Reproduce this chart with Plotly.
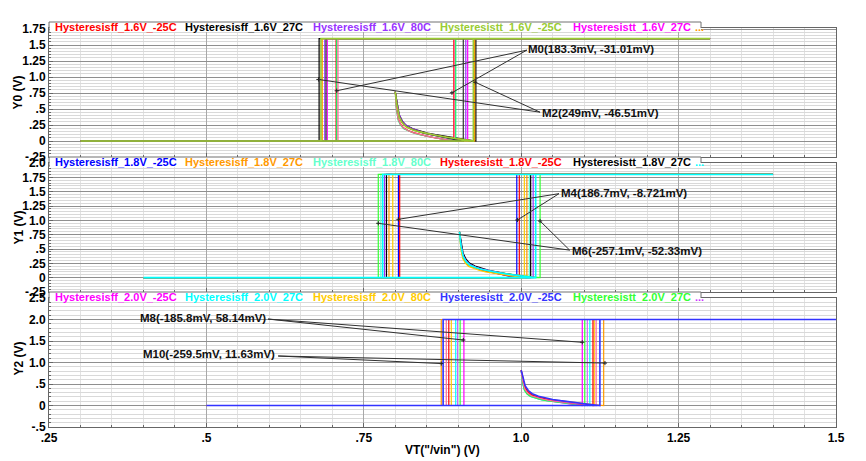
import plotly.graph_objects as go

# ---------------- data ----------------
X_TICKS = [0.25, 0.5, 0.75, 1.0, 1.25, 1.5]
X_TICK_TEXT = [".25", ".5", ".75", "1.0", "1.25", "1.5"]

Y0_TICKS = [-0.25, 0, 0.25, 0.5, 0.75, 1.0, 1.25, 1.5, 1.75]
Y0_TEXT = ["-.25", "0", ".25", ".5", ".75", "1.0", "1.25", "1.5", "1.75"]
Y1_TICKS = [-0.25, 0, 0.25, 0.5, 0.75, 1.0, 1.25, 1.5, 1.75, 2.0]
Y1_TEXT = ["-.25", "0", ".25", ".5", ".75", "1.0", "1.25", "1.5", "1.75", "2.0"]
Y2_TICKS = [-0.5, 0, 0.5, 1.0, 1.5, 2.0, 2.5]
Y2_TEXT = ["-.5", "0", ".5", "1.0", "1.5", "2.0", "2.5"]

# Panel Y0 : 1.6 V supply
P0_NAMES = ["Hysteresisff_1.6V_-25C", "Hysteresisff_1.6V_27C", "Hysteresisff_1.6V_80C",
            "Hysteresistt_1.6V_27C", "Hysteresistt_1.6V_80C", "Hysteresisss_1.6V_-25C",
            "Hysteresisss_1.6V_27C", "Hysteresisss_1.6V_80C", "Hysteresistt_1.6V_-25C"]
P0_COLORS = ["#ff0000", "#000000", "#9933ff", "#ff00ff", "#ff9900", "#00ff66",
             "#ff6699", "#333333", "#99cc33"]
P0_XL = [0.706, 0.679, 0.688, 0.692, 0.684, 0.707, 0.709, 0.690, 0.682]
P0_XR = [0.893, 0.928, 0.912, 0.915, 0.926, 0.896, 0.894, 0.908, 0.924]
P0_DSCALE = [0.92, 1.08, 1.15, 1.05, 0.97, 0.85, 0.90, 1.10, 1.0]
P0_V = 1.6
P0_XSTART, P0_XTOP = 0.30, 1.30
P0_DECAY_X0, P0_DECAY_Y0 = 0.80, 0.77

# Panel Y1 : 1.8 V supply
P1_NAMES = ["Hysteresisff_1.8V_-25C", "Hysteresisff_1.8V_27C", "Hysteresisff_1.8V_80C",
            "Hysteresistt_1.8V_-25C", "Hysteresistt_1.8V_27C", "Hysteresisss_1.8V_-25C",
            "Hysteresisss_1.8V_27C", "Hysteresisss_1.8V_80C", "Hysteresistt_1.8V_80C"]
P1_COLORS = ["#0000ff", "#ff9900", "#66ffcc", "#ff0000", "#000000", "#33ff33",
             "#9933ff", "#ffcc00", "#00ffff"]
P1_XL = [0.805, 0.790, 0.777, 0.807, 0.786, 0.773, 0.783, 0.796, 0.780]
P1_XR = [0.993, 1.009, 1.013, 0.997, 1.015, 1.030, 1.019, 1.005, 1.023]
P1_DSCALE = [1.15, 0.90, 0.95, 1.05, 1.10, 0.88, 1.0, 0.85, 0.93]
P1_V = 1.8
P1_XSTART, P1_XTOP = 0.40, 1.40
P1_DECAY_X0, P1_DECAY_Y0 = 0.902, 0.80

# Panel Y2 : 2.0 V supply
P2_NAMES = ["Hysteresisff_2.0V_-25C", "Hysteresisff_2.0V_27C", "Hysteresisff_2.0V_80C",
            "Hysteresistt_2.0V_27C", "Hysteresistt_2.0V_80C", "Hysteresisss_2.0V_-25C",
            "Hysteresisss_2.0V_27C", "Hysteresisss_2.0V_80C", "Hysteresistt_2.0V_-25C"]
P2_COLORS = ["#ff00ff", "#00ffff", "#ffcc00", "#33ff33", "#cc66ff", "#ff9900",
             "#ff0000", "#ff6699", "#3333ff"]
P2_XL = [0.909, 0.896, 0.889, 0.903, 0.899, 0.873, 0.885, 0.881, 0.876]
P2_XR = [1.097, 1.109, 1.116, 1.101, 1.105, 1.131, 1.114, 1.119, 1.125]
P2_DSCALE = [0.95, 0.85, 1.05, 0.90, 1.10, 1.0, 1.08, 0.93, 1.15]
P2_V = 2.0
P2_XSTART, P2_XTOP = 0.50, 1.50
P2_DECAY_X0, P2_DECAY_Y0 = 1.0, 0.82

# shape of the initial decay (fraction of the way to the switching point, relative height)
DECAY_FRAC = [0.0, 0.02, 0.05, 0.09, 0.14, 0.22, 0.30, 0.40, 0.50, 0.64, 0.76, 0.88, 1.0]
DECAY_REL = [1.0, 0.74, 0.49, 0.37, 0.29, 0.23, 0.19, 0.15, 0.12, 0.08, 0.05, 0.025, 0.0]

# legend rows (first five names + "...")
LEG0_TEXT = ["Hysteresisff_1.6V_-25C", "Hysteresisff_1.6V_27C", "Hysteresisff_1.6V_80C",
             "Hysteresistt_1.6V_-25C", "Hysteresistt_1.6V_27C", "..."]
LEG0_COL = ["#ff0000", "#000000", "#9933ff", "#99cc33", "#ff00ff", "#ff9900"]
LEG1_TEXT = ["Hysteresisff_1.8V_-25C", "Hysteresisff_1.8V_27C", "Hysteresisff_1.8V_80C",
             "Hysteresistt_1.8V_-25C", "Hysteresistt_1.8V_27C", "..."]
LEG1_COL = ["#0000ff", "#ff9900", "#66ffcc", "#ff0000", "#000000", "#00ffff"]
LEG2_TEXT = ["Hysteresisff_2.0V_-25C", "Hysteresisff_2.0V_27C", "Hysteresisff_2.0V_80C",
             "Hysteresistt_2.0V_-25C", "Hysteresistt_2.0V_27C", "..."]
LEG2_COL = ["#ff00ff", "#00ffff", "#ffcc00", "#3333ff", "#33ff33", "#cc33ff"]

# delta markers
MK_PANEL = [1, 1, 2, 2, 3, 3]
MK_TEXT = ["M0(183.3mV, -31.01mV)", "M2(249mV, -46.51mV)", "M4(186.7mV, -8.721mV)",
           "M6(-257.1mV, -52.33mV)", "M8(-185.8mV, 58.14mV)", "M10(-259.5mV, 11.63mV)"]
MK_AX = [0.707, 0.678, 0.805, 0.773, 0.908, 0.873]
MK_AY = [0.785, 0.962, 1.018, 0.948, 1.523, 0.975]
MK_BX = [0.890, 0.927, 0.994, 1.030, 1.097, 1.133]
MK_BY = [0.754, 0.918, 1.006, 0.988, 1.470, 0.987]

# ---------------- layout constants (pixels) ----------------
W, H = 866, 461
L, R, T, B = 49, 836, 28, 427
PW, PH = R - L, B - T
PANEL_TOP = [28, 163, 298]
PANEL_BOT = [157, 292, 427]
YRANGES = [[-0.25, 1.766], [-0.25, 2.0], [-0.5, 2.5]]

# label placement (data coords) for markers
MK_LBL_X = [1.008, 1.030, 1.060, 1.077, 0.598, 0.612]
MK_LBL_Y = [1.44, 0.435, 1.482, 0.470, 2.045, 1.198]
MK_LBL_ANCHOR = ["left", "left", "left", "left", "right", "right"]
MK_END_X = [1.009, 1.030, 1.060, 1.077, 0.598, 0.614]
MK_END_Y = [1.42, 0.45, 1.465, 0.48, 2.01, 1.151]


def py2paper(py):
    return (B - py) / PH


def px2paper(px):
    return (px - L) / PW


fig = go.Figure()


def add_panel(idx, names, colors, xl, xr, dscale, v, xstart, xtop, x0, y0):
    ax = "" if idx == 0 else str(idx + 1)
    nlast = len(names) - 1
    for k, (n, c, a, b, s) in enumerate(zip(names, colors, xl, xr, dscale)):
        xs = [x0 + f * (b - x0) for f in DECAY_FRAC]
        ys = [y0 * g * (s if 0 < i < len(DECAY_REL) - 1 else 1.0)
              for i, g in enumerate(DECAY_REL)]
        xs += [b, xtop, a, a, xstart, b]
        ys += [v, v, v, 0, 0, 0]
        fig.add_trace(go.Scatter(x=xs, y=ys, mode="lines", name=n,
                                 line=dict(color=c, width=1.6 if k == nlast else 1.2),
                                 xaxis="x" + ax, yaxis="y" + ax, showlegend=False))


add_panel(0, P0_NAMES, P0_COLORS, P0_XL, P0_XR, P0_DSCALE, P0_V, P0_XSTART, P0_XTOP,
          P0_DECAY_X0, P0_DECAY_Y0)
add_panel(1, P1_NAMES, P1_COLORS, P1_XL, P1_XR, P1_DSCALE, P1_V, P1_XSTART, P1_XTOP,
          P1_DECAY_X0, P1_DECAY_Y0)
add_panel(2, P2_NAMES, P2_COLORS, P2_XL, P2_XR, P2_DSCALE, P2_V, P2_XSTART, P2_XTOP,
          P2_DECAY_X0, P2_DECAY_Y0)

shapes = []
annotations = []
BOLD = dict(family="Liberation Sans, Arial, sans-serif", size=12, color="black", weight="bold")
BOLD_MK = dict(family="Liberation Sans, Arial, sans-serif", size=11.5, color="#111111",
               weight="bold")

# markers
for i in range(len(MK_TEXT)):
    ax = "" if MK_PANEL[i] == 1 else str(MK_PANEL[i])
    for px_, py_ in ((MK_AX[i], MK_AY[i]), (MK_BX[i], MK_BY[i])):
        shapes.append(dict(type="line", xref="x" + ax, yref="y" + ax,
                           x0=MK_END_X[i], y0=MK_END_Y[i], x1=px_, y1=py_,
                           line=dict(color="#303030", width=1), layer="above"))
    fig.add_trace(go.Scatter(x=[MK_AX[i], MK_BX[i]], y=[MK_AY[i], MK_BY[i]], mode="markers",
                             marker=dict(color="#202020", size=3, symbol="cross-thin",
                                         line=dict(color="#202020", width=1)),
                             xaxis="x" + ax, yaxis="y" + ax, showlegend=False))
    annotations.append(dict(text=MK_TEXT[i], x=MK_LBL_X[i], y=MK_LBL_Y[i],
                            xref="x" + ax, yref="y" + ax, xanchor=MK_LBL_ANCHOR[i],
                            yanchor="middle", showarrow=False, font=BOLD_MK))

# legend boxes
LEG_X = [53, 183, 311, 438, 571, 693]
for k, (texts, cols) in enumerate(((LEG0_TEXT, LEG0_COL), (LEG1_TEXT, LEG1_COL),
                                   (LEG2_TEXT, LEG2_COL))):
    top = PANEL_TOP[k]
    shapes.append(dict(type="rect", xref="paper", yref="paper",
                       x0=px2paper(L + 0.5), x1=px2paper(701), y0=py2paper(top + 4),
                       y1=py2paper(top - 6), fillcolor="white", line=dict(width=0),
                       layer="above"))
    shapes.append(dict(type="path", xref="paper", yref="paper",
                       path="M {} {} L {} {} L {} {} L {} {}".format(
                           px2paper(L), py2paper(top + 4), px2paper(L), py2paper(top - 6),
                           px2paper(701), py2paper(top - 6), px2paper(701), py2paper(top)),
                       line=dict(color="#707070", width=1), layer="above"))
    for t, c, xp in zip(texts, cols, LEG_X):
        annotations.append(dict(text=t, x=px2paper(xp), y=py2paper(top - 1.5),
                                xref="paper", yref="paper", xanchor="left",
                                yanchor="middle", showarrow=False,
                                font=dict(family="Liberation Sans, Arial, sans-serif",
                                          size=11, color=c, weight="bold")))

# axis titles
for k, t in enumerate(["Y0 (V)", "Y1 (V)", "Y2 (V)"]):
    cy = (PANEL_TOP[k] + PANEL_BOT[k]) / 2 - (4 if k == 2 else 0)
    annotations.append(dict(text=t, x=px2paper(18), y=py2paper(cy), xref="paper",
                            yref="paper", textangle=-90, showarrow=False, font=BOLD,
                            xanchor="center", yanchor="middle"))
annotations.append(dict(text='VT("/vin") (V)', x=px2paper(442), y=py2paper(450),
                        xref="paper", yref="paper", showarrow=False, font=BOLD,
                        xanchor="center", yanchor="middle"))

MAJOR_GRID = "#8f8f8f"
MINOR_GRID = "#d9d9d9"
AXLINE = "#666666"


def xaxis_cfg(idx):
    return dict(range=[0.25, 1.5], tickvals=X_TICKS, ticktext=X_TICK_TEXT,
                showticklabels=(idx == 2), tickfont=BOLD, ticks="inside", ticklen=4,
                tickcolor=AXLINE, showgrid=True, gridcolor="#a8a8a8", gridwidth=1,
                showline=True, mirror=True, linecolor=AXLINE, linewidth=1,
                zeroline=False, anchor="y" if idx == 0 else "y" + str(idx + 1),
                minor=dict(tick0=0.25, dtick=0.05, ticks="inside", ticklen=2,
                           tickcolor=AXLINE, showgrid=True, gridcolor="#e2e2e2"),
                fixedrange=True)


def yaxis_cfg(idx, tv, tt, minor_dt):
    top, bot = PANEL_TOP[idx], PANEL_BOT[idx]
    return dict(range=YRANGES[idx], tickvals=tv, ticktext=tt, tickfont=BOLD,
                domain=[py2paper(bot), py2paper(top)], ticks="inside", ticklen=4,
                tickcolor=AXLINE, showgrid=True, gridcolor=MAJOR_GRID, gridwidth=1.2,
                showline=True, mirror=True, linecolor=AXLINE, linewidth=1,
                zeroline=False, anchor="x" if idx == 0 else "x" + str(idx + 1),
                minor=dict(tick0=0, dtick=minor_dt, ticks="inside", ticklen=2,
                           tickcolor=AXLINE, showgrid=True, gridcolor=MINOR_GRID),
                fixedrange=True)


fig.update_layout(
    width=W, height=H,
    margin=dict(l=L, r=W - R, t=T, b=H - B, pad=0),
    paper_bgcolor="white", plot_bgcolor="white",
    xaxis=xaxis_cfg(0), xaxis2=xaxis_cfg(1), xaxis3=xaxis_cfg(2),
    yaxis=yaxis_cfg(0, Y0_TICKS, Y0_TEXT, 0.05),
    yaxis2=yaxis_cfg(1, Y1_TICKS, Y1_TEXT, 0.05),
    yaxis3=yaxis_cfg(2, Y2_TICKS, Y2_TEXT, 0.1),
    shapes=shapes, annotations=annotations, showlegend=False,
)

fig.write_html("out.html")
